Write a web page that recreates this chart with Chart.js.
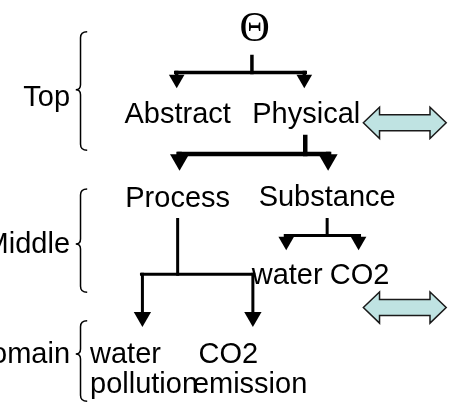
<!DOCTYPE html>
<html>
<head>
<meta charset="utf-8">
<script src="https://cdn.jsdelivr.net/npm/chart.js@4.4.1/dist/chart.umd.min.js"></script>
<style>
  html, body { margin: 0; padding: 0; background: #fff; }
  #wrap { width: 461px; height: 418px; }
</style>
</head>
<body>
<div id="wrap"><canvas id="treeChart" width="461" height="418"></canvas></div>
<script>
// tree nodes (x = anchor, y = text baseline, in diagram units)
const nodeLabels = ['Abstract', 'Physical', 'Process', 'Substance', 'water', 'CO2', 'water', 'pollution', 'CO2', 'emission'];
const nodeX = [175, 310, 175, 332, 290, 366, 83, 83, 197, 191];
const nodeY = [118, 118, 207, 206, 288, 288, 372, 403, 372, 403];
const nodeAlign = ['center', 'center', 'center', 'center', 'center', 'center', 'left', 'left', 'left', 'left'];

const rootLabel = 'Θ';
const rootX = 256;
const rootY = 32;

// connectors: stem from the parent, a bar, then arrows down to the children
const parentX = [253, 309, 175, 332];
const stemTop = [48, 133, 220, 220];
const barY = [65, 151, 278, 237];
const childX = [[174, 308], [177, 333], [138, 254], [289, 365]];
const tipY = [81, 168, 333, 252];
const lineWidth = [3.5, 4.5, 3, 3];
const headSize = [9, 11, 10, 9];

// level braces on the left
const levelLabels = ['Top', 'Middle', 'Domain'];
const braceTop = [22, 188, 327];
const braceBottom = [147, 297, 412];
const braceTip = [83, 246, 362];
const labelBaseline = [100, 255, 372];

// the two light double arrows on the right
const dblArrowY = [118, 313];

const segments = [];
const heads = [];
parentX.forEach((px, i) => {
    const kids = childX[i];
    const lo = Math.min(...kids) - 1;
    const hi = Math.max(...kids) + 1;
    segments.push({ w: lineWidth[i], pts: [{ x: px, y: stemTop[i] }, { x: px, y: barY[i] }] });
    segments.push({ w: lineWidth[i], pts: [{ x: lo, y: barY[i] }, { x: hi, y: barY[i] }] });
    kids.forEach(cx => {
        const cy = tipY[i] - headSize[i];
        if (cy > barY[i]) {
            segments.push({ w: lineWidth[i], pts: [{ x: cx, y: barY[i] }, { x: cx, y: cy }] });
        }
        heads.push({ x: cx, y: cy, r: headSize[i] });
    });
});

const datasets = segments.map(s => ({
    data: s.pts,
    showLine: true,
    borderColor: '#000',
    borderWidth: s.w,
    borderCapStyle: 'square',
    pointRadius: 0,
    pointHoverRadius: 0
}));

datasets.push({
    data: heads.map(h => ({ x: h.x, y: h.y })),
    showLine: false,
    pointStyle: 'triangle',
    rotation: 180,
    pointRadius: heads.map(h => h.r),
    pointHoverRadius: heads.map(h => h.r),
    backgroundColor: '#000',
    borderColor: '#000',
    borderWidth: 0
});

const decorations = {
    id: 'decorations',
    afterDatasetsDraw(chart) {
        const ctx = chart.ctx;
        const xs = chart.scales.x;
        const ys = chart.scales.y;
        const X = v => xs.getPixelForValue(v);
        const Y = v => ys.getPixelForValue(v);

        ctx.save();
        ctx.fillStyle = '#000';
        ctx.textBaseline = 'alphabetic';

        ctx.font = '42px "Liberation Serif", serif';
        ctx.textAlign = 'center';
        ctx.fillText(rootLabel, X(rootX), Y(rootY));

        ctx.font = '29px "Liberation Sans", Arial, sans-serif';
        nodeLabels.forEach((t, i) => {
            ctx.textAlign = nodeAlign[i];
            ctx.fillText(t, X(nodeX[i]), Y(nodeY[i]));
        });

        ctx.textAlign = 'right';
        levelLabels.forEach((t, i) => {
            ctx.fillText(t, X(62), Y(labelBaseline[i]));
        });

        // braces
        ctx.strokeStyle = '#000';
        ctx.lineWidth = 1.5;
        levelLabels.forEach((t, i) => {
            const xe = X(80), xm = X(73), xt = X(68);
            const top = Y(braceTop[i]), bot = Y(braceBottom[i]), tip = Y(braceTip[i]);
            ctx.beginPath();
            ctx.moveTo(xe, top);
            ctx.quadraticCurveTo(xm, top, xm, top + 6);
            ctx.lineTo(xm, tip - 5);
            ctx.quadraticCurveTo(xm, tip, xt, tip);
            ctx.quadraticCurveTo(xm, tip, xm, tip + 5);
            ctx.lineTo(xm, bot - 6);
            ctx.quadraticCurveTo(xm, bot, xe, bot);
            ctx.stroke();
        });

        // double arrows
        ctx.fillStyle = '#bfe3e2';
        ctx.strokeStyle = '#1a1a1a';
        ctx.lineWidth = 1.5;
        ctx.lineJoin = 'miter';
        dblArrowY.forEach(cy => {
            const l = 370, r = 457, hl = 17, hh = 16.5, sh = 8.5;
            const pts = [
                [l, cy], [l + hl, cy - hh], [l + hl, cy - sh], [r - hl, cy - sh], [r - hl, cy - hh],
                [r, cy], [r - hl, cy + hh], [r - hl, cy + sh], [l + hl, cy + sh], [l + hl, cy + hh]
            ];
            ctx.beginPath();
            pts.forEach((p, k) => {
                if (k === 0) ctx.moveTo(X(p[0]), Y(p[1]));
                else ctx.lineTo(X(p[0]), Y(p[1]));
            });
            ctx.closePath();
            ctx.fill();
            ctx.stroke();
        });
        ctx.restore();
    }
};

new Chart(document.getElementById('treeChart'), {
    type: 'scatter',
    data: { datasets: datasets },
    options: {
        responsive: false,
        animation: false,
        devicePixelRatio: 1,
        layout: { padding: 0 },
        events: [],
        plugins: {
            legend: { display: false },
            tooltip: { enabled: false }
        },
        scales: {
            x: { type: 'linear', min: 0, max: 461, display: false },
            y: { type: 'linear', min: 0, max: 418, reverse: true, display: false }
        }
    },
    plugins: [decorations]
});
</script>
</body>
</html>
